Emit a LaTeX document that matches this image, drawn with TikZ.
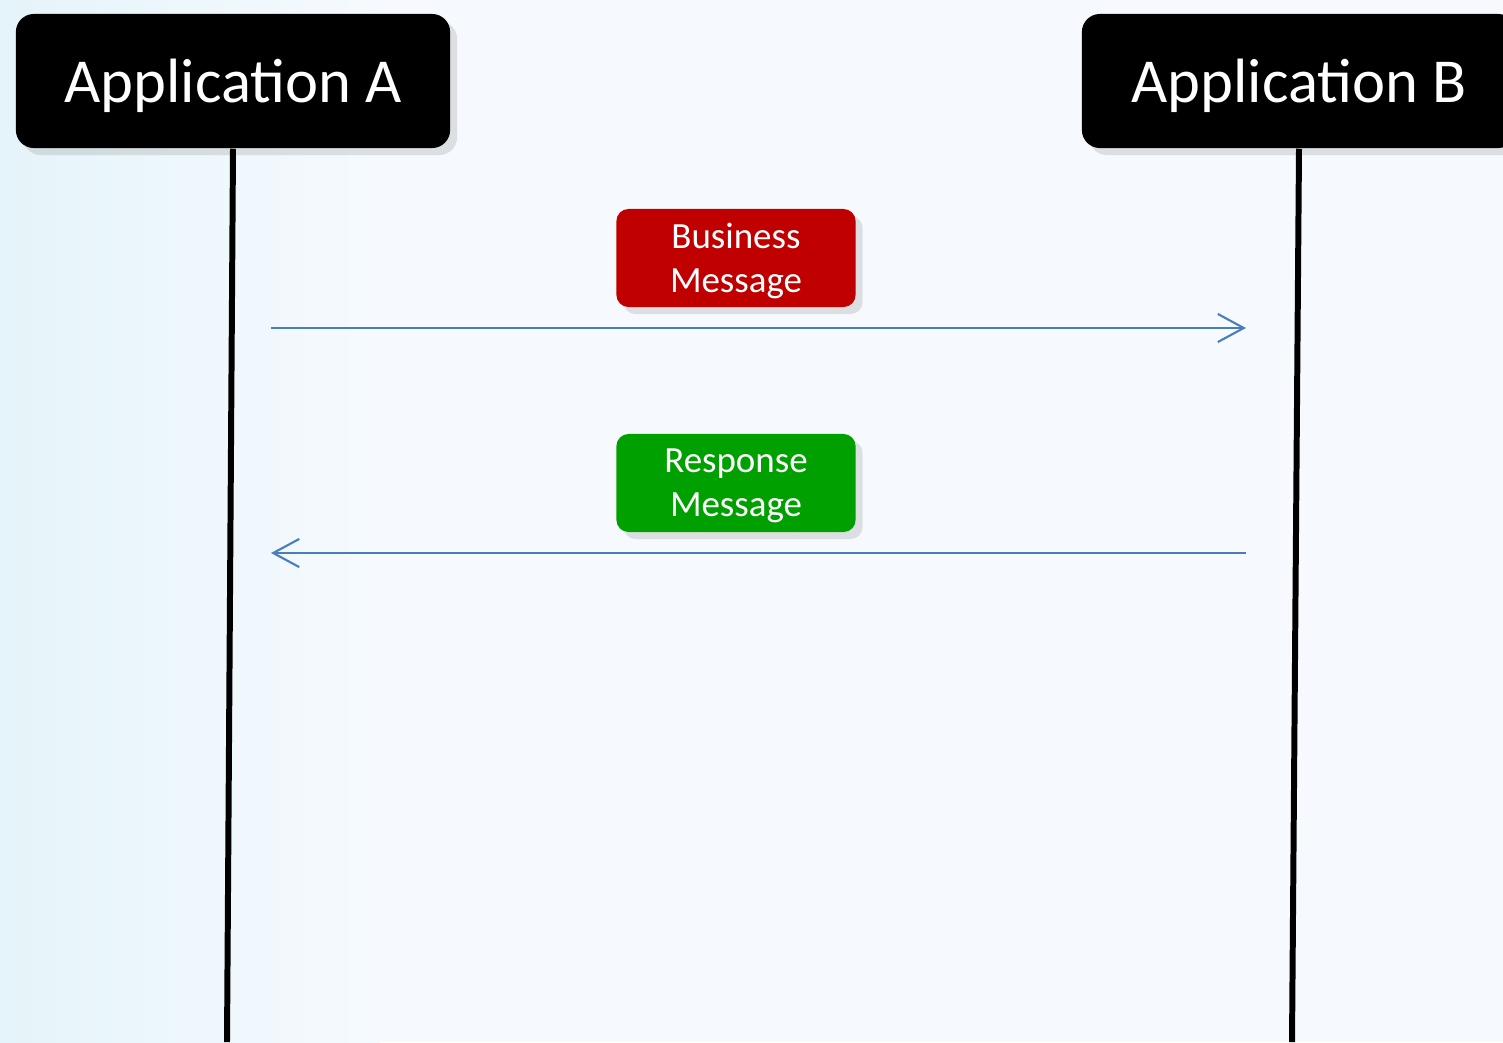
\documentclass[tikz,border=0pt]{standalone}
\usepackage{fontspec}
\setmainfont{Carlito}
\usetikzlibrary{arrows.meta}
\usetikzlibrary{shadows}
\definecolor{msgred}{RGB}{192,0,0}
\definecolor{msggreen}{RGB}{0,160,0}
\definecolor{arrowblue}{RGB}{74,126,187}
\definecolor{bgleft}{RGB}{229,244,250}
\definecolor{bgmain}{RGB}{246,250,254}
\tikzstyle{box}=[rounded corners, text=white, align=center, inner sep=0, text depth=0pt,
                 drop shadow={opacity=0.22, shadow xshift=2pt, shadow yshift=-2pt}]
\tikzstyle{appbox}=[box, fill=black, minimum width=4.34cm, minimum height=1.34cm,
                    rounded corners=0.18cm, font=\fontsize{17.8}{21}\selectfont]
\tikzstyle{msgbox}=[box, minimum width=2.39cm, minimum height=0.98cm,
                    rounded corners=0.12cm, font=\fontsize{10.5}{12.5}\selectfont]
\tikzstyle{lifeline}=[line width=1.7pt, black]
\tikzstyle{msgarrow}=[arrowblue, line width=0.6pt,
                      -{Straight Barb[length=7.4pt, width=8pt, line width=0.6pt]}]

\begin{document}
\begin{tikzpicture}[x=0.01cm, y=-0.01cm]
        % Page and background.
        \useasboundingbox (0, 0) rectangle (1503, 1042);
        \clip (0, 0) rectangle (1503, 1042);
        \fill[bgmain] (0, 0) rectangle (1503, 1042);
        \shade[left color=bgleft, right color=bgmain] (0, 0) rectangle (380, 1042);
        % Lifelines.
        \node[appbox] (appA) at (233, 81) {Application A};
        \node[appbox] (appB) at (1299, 81) {Application B};
        \coordinate (endA) at (227, 1042);
        \coordinate (endB) at (1292, 1042);
        \draw[lifeline] (appA.south) -- (endA);
        \draw[lifeline] (appB.south) -- (endB);
        % Messages.
        \node[msgbox, fill=msgred] (bizMsg) at (736, 258) {Business\\Message};
        \node[msgbox, fill=msggreen] (respMsg) at (736, 483) {Response\\Message};
        \coordinate (bizFrom) at (271, 328);
        \coordinate (bizTo) at (1246, 328);
        \coordinate (respFrom) at (1246, 553);
        \coordinate (respTo) at (271, 553);
        \draw[msgarrow] (bizFrom) -- (bizTo);
        \draw[msgarrow] (respFrom) -- (respTo);
    \end{tikzpicture}
\end{document}
